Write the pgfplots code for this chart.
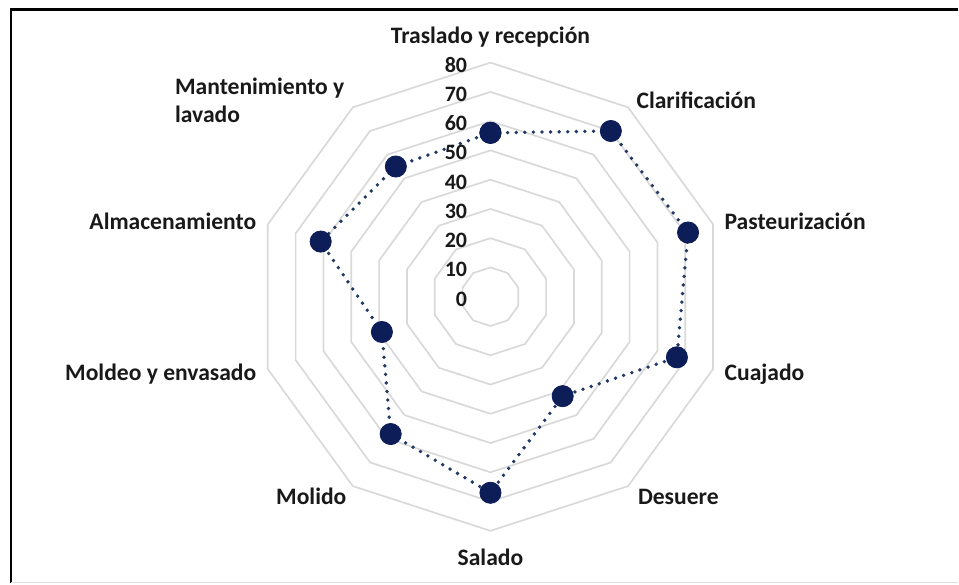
\documentclass[border=0pt]{standalone}
\usepackage{pgfplots}
\pgfplotsset{compat=1.18}
\usepackage{fontspec}
\setmainfont{Carlito}
\definecolor{ringgray}{HTML}{D9D9D9}
\definecolor{linenavy}{HTML}{1F3864}
\definecolor{dotnavy}{HTML}{0C1D58}
\tikzset{lbl/.style={font=\bfseries\fontsize{11.8}{14}\selectfont, text=black!90, inner sep=0pt},
  num/.style={font=\bfseries\fontsize{11}{13}\selectfont, text=black!90, inner sep=0pt}}

\begin{document}
\begin{tikzpicture}
\begin{axis}[
  x=1.465pt, y=1.465pt,
  xmin=-167.6, xmax=159.7, ymin=-97.95, ymax=101.4,
  hide axis, clip=false,
]
\path (rel axis cs:0,0) rectangle (rel axis cs:1,1);
% frame (only top and left edges are inside the crop)
\draw[black, line width=1.25pt] (axis cs:-163.8,-97.95) -- (axis cs:-163.8,98.2) -- (axis cs:159.7,98.2);
\draw[black!12, line width=0.5pt] (axis cs:-163.8,-97.6) -- (axis cs:159.7,-97.6);

% decagon rings
\pgfplotsinvokeforeach{10,20,30,40,50,60,70,80}{
  \addplot[data cs=polar, ringgray, line width=0.85pt, line join=round] coordinates {
    (90,#1) (54,#1) (18,#1) (-18,#1) (-54,#1) (-90,#1) (-126,#1) (-162,#1) (162,#1) (126,#1) (90,#1)};
}

% series
\addplot[data cs=polar, linenavy, line width=1.9pt, line cap=round,
  dash pattern=on 0pt off 4.3pt,
  mark=*, mark size=5.3pt, mark options={solid, fill=dotnavy, draw=dotnavy, line width=0.4pt}]
  coordinates {
    (90,56) (54,70) (18,71) (-18,67) (-54,42) (-90,67) (-126,58) (-162,39) (162,61) (126,55) (90,56)};

% radial value labels
\pgfplotsinvokeforeach{0,10,20,30,40,50,60,70,80}{
  \node[num, anchor=east, yshift=-1.2pt] at (axis cs:-7.85,#1) {#1};
}

% category labels
\node[lbl, anchor=center] at (axis cs:0,88.7) {Traslado y recepción};
\node[lbl, anchor=west] at (axis cs:49.8,67.2) {Clarificación};
\node[lbl, anchor=west] at (axis cs:79.9,25.6) {Pasteurización};
\node[lbl, anchor=west] at (axis cs:79.9,-26.6) {Cuajado};
\node[lbl, anchor=west] at (axis cs:50.3,-68.3) {Desuere};
\node[lbl, anchor=center] at (axis cs:0,-89.1) {Salado};
\node[lbl, anchor=east] at (axis cs:-49.1,-68.3) {Molido};
\node[lbl, anchor=east] at (axis cs:-79.9,-26.6) {Moldeo y envasado};
\node[lbl, anchor=east] at (axis cs:-79.9,25.6) {Almacenamiento};
\node[lbl, anchor=east, align=left] at (axis cs:-49.8,67.2) {Mantenimiento y\\lavado};
\end{axis}
\end{tikzpicture}
\end{document}
